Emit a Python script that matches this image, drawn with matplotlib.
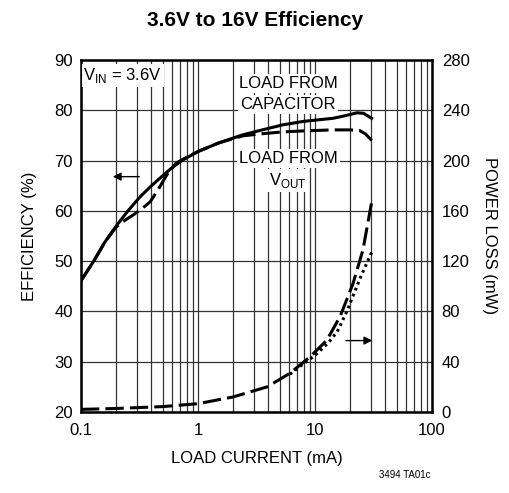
import matplotlib
matplotlib.use("Agg")
import matplotlib.pyplot as plt
import numpy as np

plt.rcParams['font.family'] = ['Liberation Sans', 'DejaVu Sans']

# Efficiency, load from capacitor (solid)
cap_x = [0.1, 0.13, 0.16, 0.2, 0.25, 0.32, 0.4, 0.5, 0.6, 0.74, 1.0, 1.5, 2.4, 3.4, 5.3, 8.0, 14.2, 18.0, 22.8, 26.0, 30.5]
cap_eff = [46.1, 50.2, 53.8, 57.0, 59.9, 62.8, 65.0, 67.0, 68.6, 70.1, 71.8, 73.5, 75.1, 76.0, 77.1, 77.8, 78.4, 78.9, 79.5, 79.4, 78.4]
# Efficiency, load from VOUT (dashed)
vout_x = [0.1, 0.13, 0.16, 0.2, 0.24, 0.28, 0.33, 0.39, 0.45, 0.54, 0.65, 0.75, 1.0, 1.5, 2.4, 3.4, 5.3, 8.0, 14.2, 20.0, 24.0, 27.0, 30.5]
vout_eff = [46.1, 50.2, 53.8, 56.8, 58.2, 59.2, 60.4, 61.8, 64.0, 67.1, 69.5, 70.3, 71.8, 73.5, 74.9, 75.3, 75.7, 75.9, 76.1, 76.1, 76.0, 75.3, 74.0]
# Power loss, load from VOUT (dashed)
plv_x = [0.1, 0.2, 0.5, 1.0, 2.0, 3.9, 6.1, 9.1, 12.6, 16.4, 21.1, 25.7, 30.5]
plv_mw = [2.1, 2.8, 4.3, 6.6, 12.0, 20.0, 30.8, 44.0, 57.0, 76.0, 102.0, 129.0, 167.0]
# Power loss, load from capacitor (dotted)
plc_x = [6.1, 8.0, 10.0, 13.0, 15.5, 18.5, 21.5, 24.2, 27.0, 30.5]
plc_mw = [30.0, 38.5, 45.0, 55.0, 64.0, 79.0, 94.0, 106.0, 116.0, 127.0]

yl_ticks = [20, 30, 40, 50, 60, 70, 80, 90]
yr_ticks = [0, 40, 80, 120, 160, 200, 240, 280]
x_ticks = [0.1, 1, 10, 100]
x_labels = ['0.1', '1', '10', '100']

fig = plt.figure(figsize=(5.10, 4.93), dpi=100)
ax = fig.add_axes([81/510, 1-412/493, (432-81)/510, (412-60)/493])
ax.set_xscale('log')
ax.set_xlim(0.1, 100)
ax.set_ylim(20, 90)
ax.set_yticks(yl_ticks)
ax.set_xticks(x_ticks)
ax.set_xticklabels(x_labels)
ax.minorticks_on()
ax.yaxis.set_minor_locator(matplotlib.ticker.NullLocator())
ax.tick_params(which='both', length=0, labelsize=12)
ax.tick_params(axis='x', pad=8)
ax.tick_params(axis='y', pad=6)
ax.grid(True, which='both', axis='x', color='#333333', lw=0.9)
ax.grid(True, which='major', axis='y', color='#333333', lw=0.9)
for s in ax.spines.values():
    s.set_linewidth(1.8)

ax.plot(cap_x, cap_eff, color='black', lw=2.2, zorder=3)
ax.plot(vout_x, vout_eff, color='black', lw=2.2, ls=(0, (6, 2)), zorder=3)

ax2 = ax.twinx()
ax2.set_ylim(0, 280)
ax2.set_yticks(yr_ticks)
ax2.tick_params(length=0, labelsize=12, pad=7)
ax2.plot(plv_x, plv_mw, color='black', lw=2.2, ls=(0, (6, 2)), zorder=3)
ax2.plot(plc_x, plc_mw, color='black', lw=2.2, ls=(0, (0.9, 1.2)), zorder=3)

ax.set_ylabel('EFFICIENCY (%)', fontsize=12, labelpad=12)
ax2.set_ylabel('POWER LOSS (mW)', fontsize=12, rotation=-90, labelpad=20)
ax.set_xlabel('LOAD CURRENT (mA)', fontsize=12, labelpad=9)

box = dict(facecolor='white', edgecolor='none', pad=1.5)
ax.text(0.105, 86.9, r'V$_{\mathregular{IN}}$ = 3.6V', fontsize=12, va='center', ha='left', bbox=box, zorder=4)
ax.text(5.9, 85.4, 'LOAD FROM', fontsize=12, va='center', ha='center', bbox=box, zorder=4)
ax.text(5.9, 81.2, 'CAPACITOR', fontsize=12, va='center', ha='center', bbox=box, zorder=4)
ax.text(5.9, 70.5, 'LOAD FROM', fontsize=12, va='center', ha='center', bbox=box, zorder=4)
ax.text(5.9, 66.0, r'V$_{\mathregular{OUT}}$', fontsize=12, va='center', ha='center', bbox=box, zorder=4)

ax.annotate('', xy=(0.177, 66.8), xytext=(0.332, 66.8),
            arrowprops=dict(arrowstyle='-|>', color='black', lw=1.0, mutation_scale=12), zorder=4)
ax.annotate('', xy=(32.6, 34.2), xytext=(17.4, 34.2),
            arrowprops=dict(arrowstyle='-|>', color='black', lw=1.0, mutation_scale=12), zorder=4)

fig.text(0.5, 1-21/493, '3.6V to 16V Efficiency', fontsize=15, fontweight='bold', ha='center', va='center')
fig.text(405/510, 1-475/493, '3494 TA01c', fontsize=7, ha='center', va='center')

fig.savefig('out.png', dpi=100)
